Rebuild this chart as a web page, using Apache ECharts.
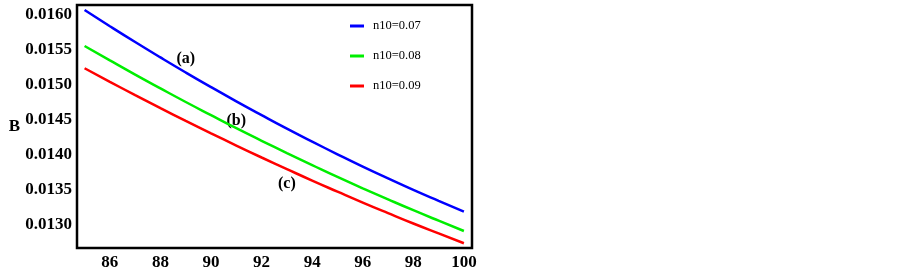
<!DOCTYPE html>
<html>
<head>
<meta charset="utf-8">
<script src="https://cdn.jsdelivr.net/npm/echarts@6/dist/echarts.min.js"></script>
<style>
  html, body { margin: 0; padding: 0; background: #fff; }
  #chart { width: 902px; height: 274px; }
</style>
</head>
<body>
<div id="chart"></div>
<script>
// x values (temperature-like axis)
const xValues = [85, 86, 87, 88, 89, 90, 91, 92, 93, 94, 95, 96, 97, 98, 99, 100]

// B
const bN07 = [0.016071, 0.015840, 0.015614, 0.015394, 0.015179, 0.014970, 0.014767, 0.014570,
  0.014377, 0.014191, 0.014010, 0.013834, 0.013666, 0.013501, 0.013344, 0.013190]
const bN08 = [0.015557, 0.015351, 0.015148, 0.014951, 0.014757, 0.014569, 0.014383, 0.014203,
  0.014027, 0.013856, 0.013687, 0.013524, 0.013366, 0.013211, 0.013061, 0.012914]
const bN09 = [0.015239, 0.015045, 0.014856, 0.014670, 0.014487, 0.014309, 0.014135, 0.013964,
  0.013798, 0.013634, 0.013476, 0.013320, 0.013169, 0.013021, 0.012879, 0.012739]

const seriesNames = ['n10=0.07', 'n10=0.08', 'n10=0.09']
const seriesColors = ['#0000ff', '#00ee00', '#ff0000']

// curve tags (a), (b), (c)
const tagText = ['(a)', '(b)', '(c)']
const tagX = [89, 91, 93]
const tagY = [0.01537, 0.014486, 0.013586]

const xTicks = [86, 88, 90, 92, 94, 96, 98, 100]
const yTicks = [0.013, 0.0135, 0.014, 0.0145, 0.015, 0.0155, 0.016]

const serif = '"Liberation Serif", "Times New Roman", serif'

const chart = echarts.init(document.getElementById('chart'), null, { renderer: 'canvas' })

const lineSeries = [bN07, bN08, bN09].map((vals, i) => ({
  name: seriesNames[i],
  type: 'line',
  data: xValues.map((x, j) => [x, vals[j]]),
  symbol: 'none',
  smooth: true,
  lineStyle: { color: seriesColors[i], width: 2.5 },
  itemStyle: { color: seriesColors[i] },
  animation: false,
}))

chart.setOption({
  backgroundColor: '#fff',
  animation: false,
  grid: {
    left: 77,
    top: 5,
    width: 395,
    height: 243,
    show: true,
    borderColor: '#000',
    borderWidth: 2.5,
  },
  legend: {
    data: seriesNames,
    orient: 'vertical',
    left: 345,
    top: 14,
    icon: 'rect',
    itemWidth: 14,
    itemHeight: 3,
    itemGap: 16,
    textStyle: {
      fontFamily: serif,
      fontSize: 12.5,
      color: '#000',
      lineHeight: 14,
      padding: [0, 0, 0, 4],
    },
  },
  xAxis: {
    type: 'value',
    min: 84.7,
    max: 100.32,
    axisLine: { show: false },
    axisTick: { show: false },
    splitLine: { show: false },
    axisLabel: {
      customValues: xTicks,
      color: '#000',
      fontFamily: serif,
      fontWeight: 'bold',
      fontSize: 17,
      margin: 6,
    },
  },
  yAxis: {
    type: 'value',
    min: 0.012671,
    max: 0.016143,
    name: 'B',
    nameLocation: 'middle',
    nameRotate: 0,
    nameGap: 57,
    nameTextStyle: {
      color: '#000',
      fontFamily: serif,
      fontWeight: 'bold',
      fontSize: 17,
      padding: [3, 0, 0, 0],
    },
    axisLine: { show: false },
    axisTick: { show: false },
    splitLine: { show: false },
    axisLabel: {
      customValues: yTicks,
      formatter: (v) => v.toFixed(4),
      color: '#000',
      fontFamily: serif,
      fontWeight: 'bold',
      fontSize: 17,
      margin: 5,
    },
  },
  series: [
    ...lineSeries,
    {
      name: 'tags',
      type: 'scatter',
      symbolSize: 0,
      itemStyle: { opacity: 1 },
      data: tagX.map((x, i) => ({ value: [x, tagY[i]], name: tagText[i] })),
      label: {
        show: true,
        position: 'inside',
        formatter: (p) => p.name,
        color: '#000',
        fontFamily: serif,
        fontWeight: 'bold',
        fontSize: 16,
      },
      silent: true,
    },
  ],
})
</script>
</body>
</html>
